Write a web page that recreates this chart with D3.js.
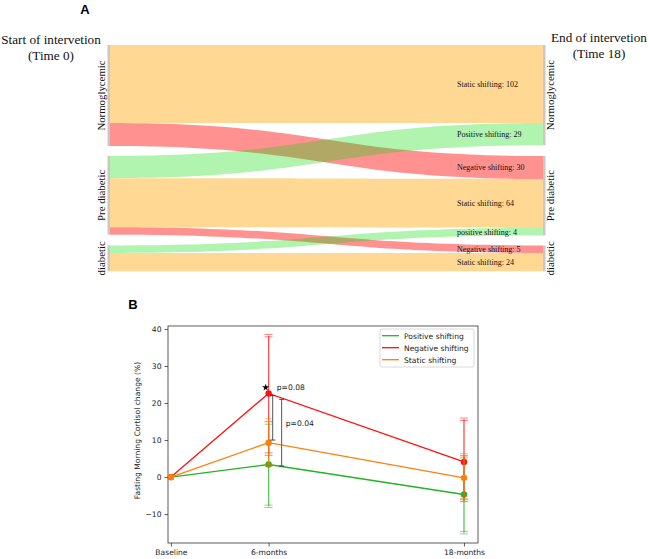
<!DOCTYPE html>
<html><head><meta charset="utf-8">
<script src="https://cdn.jsdelivr.net/npm/d3@7"></script>
<style>
body{margin:0;background:#fff;}
svg{display:block;}
</style></head>
<body>
<svg id="c" width="649" height="559"></svg>
<script>
// ---------- Panel A data (Sankey) ----------
const stages = ["Normoglycemic", "Pre diabetic", "diabetic"];
const flowSource = ["Normoglycemic","Normoglycemic","Pre diabetic","Pre diabetic","Pre diabetic","diabetic","diabetic"];
const flowTarget = ["Normoglycemic","Pre diabetic","Normoglycemic","Pre diabetic","diabetic","Pre diabetic","diabetic"];
const flowValue  = [102, 30, 29, 64, 5, 4, 24];
const flowType   = ["static","negative","positive","static","negative","positive","static"];
const flowLabel  = ["Static shifting: 102","Negative shifting: 30","Positive shifting: 29","Static shifting: 64","Negative shifting: 5","positive shifting: 4","Static shifting: 24"];

// ---------- Panel B data (line chart) ----------
const timeLabels = ["Baseline", "6-months", "18-months"];
const timeMonths = [0, 6, 18];
const seriesNames = ["Positive shifting", "Negative shifting", "Static shifting"];
const positiveMean = [0, 3.4, -4.7];
const positiveLow  = [0, -7.9, -15.0];
const positiveHigh = [0, 14.6, 5.5];
const negativeMean = [0, 22.6, 4.1];
const negativeLow  = [0, 6.2, -6.3];
const negativeHigh = [0, 38.2, 15.6];
const staticMean   = [0, 9.3, -0.2];
const staticLow    = [0, 3.2, -6.2];
const staticHigh   = [0, 15.4, 6.0];
const yTicks = [-10, 0, 10, 20, 30, 40];
const pLabels = ["p=0.08", "p=0.04"];

const svg = d3.select("#c");
const serif = "'Liberation Serif','Times New Roman',serif";
const sans = "'DejaVu Sans',sans-serif";

// ===== Panel A =====
svg.append("text").attr("x", 85).attr("y", 14).attr("text-anchor","middle")
  .attr("font-family","'Liberation Sans',Arial,sans-serif").attr("font-weight","bold").attr("font-size",13).text("A");
const hdr = [[51, "Start of intervetion", "(Time 0)", 44], [599, "End of intervetion", "(Time 18)", 42]];
hdr.forEach(h=>{
  const t = svg.append("text").attr("text-anchor","middle").attr("font-family",serif).attr("font-size",13.2).attr("fill","#111");
  t.append("tspan").attr("x",h[0]).attr("y",h[3]).text(h[1]);
  t.append("tspan").attr("x",h[0]).attr("dy",15.5).text(h[2]);
});

const colorOf = {static:"#ffa500", negative:"#ff0000", positive:"#00dd00"};
const opacityOf = {static:0.42, negative:0.43, positive:0.31};

const topY = 45, gap = 10, minBand = 7.5;
const xL = 110, xR = 543;
const flows = flowValue.map((v,i)=>({s:flowSource[i], t:flowTarget[i], v, type:flowType[i], label:flowLabel[i]}));
const leftTot = stages.map(s=>d3.sum(flows.filter(f=>f.s===s), f=>f.v));
const rightTot = stages.map(s=>d3.sum(flows.filter(f=>f.t===s), f=>f.v));
const wLin = d3.scaleLinear().domain([0, d3.max(leftTot)]).range([0, 101]);
const w = v => Math.max(wLin(v), minBand);
const leftH = stages.map(s=>d3.sum(flows.filter(f=>f.s===s), f=>w(f.v)));
const rightH = stages.map(s=>d3.sum(flows.filter(f=>f.t===s), f=>w(f.v)));
const nodeY = [];
let acc = topY;
stages.forEach((s,i)=>{ nodeY.push(acc); acc += Math.max(leftH[i], rightH[i]) + gap; });
const offL = nodeY.slice(), offR = nodeY.slice();
flows.forEach(f=>{
  const si = stages.indexOf(f.s), ti = stages.indexOf(f.t);
  f.y0 = offL[si]; offL[si] += w(f.v); f.y0b = offL[si];
  f.y1 = offR[ti]; offR[ti] += w(f.v); f.y1b = offR[ti];
});
const xm = (xL + xR)/2;
function flowPath(f){
  return `M${xL},${f.y0}C${xm},${f.y0} ${xm},${f.y1} ${xR},${f.y1}L${xR},${f.y1b}C${xm},${f.y1b} ${xm},${f.y0b} ${xL},${f.y0b}Z`;
}
const order = ["static","negative","positive"];
const gA = svg.append("g");
order.forEach(tp=>{
  gA.selectAll(null).data(flows.filter(f=>f.type===tp)).enter().append("path")
    .attr("d", flowPath).attr("fill", colorOf[tp]).attr("fill-opacity", opacityOf[tp]);
});
// node bars
stages.forEach((s,i)=>{
  gA.append("rect").attr("x", xL-2.5).attr("y", nodeY[i]).attr("width",2.5).attr("height", leftH[i]).attr("fill","#c8c8c8");
  gA.append("rect").attr("x", xR).attr("y", nodeY[i]).attr("width",2.5).attr("height", rightH[i]).attr("fill","#c8c8c8");
  const cyL = nodeY[i] + leftH[i]/2, cyR = nodeY[i] + rightH[i]/2;
  gA.append("text").attr("transform",`translate(105,${cyL}) rotate(-90)`).attr("text-anchor","middle")
    .attr("font-family",serif).attr("font-size",10.8).attr("fill","#111").text(s);
  gA.append("text").attr("transform",`translate(554,${cyR}) rotate(-90)`).attr("text-anchor","middle")
    .attr("font-family",serif).attr("font-size",10.8).attr("fill","#111").text(s);
});
// flow labels
gA.selectAll(null).data(flows).enter().append("text")
  .attr("x", 457).attr("y", f=>(f.y1+f.y1b)/2 + 3)
  .attr("font-family",serif).attr("font-size",8).attr("fill","#111").text(f=>f.label);

// ===== Panel B =====
svg.append("text").attr("x", 133).attr("y", 309).attr("text-anchor","middle")
  .attr("font-family","'Liberation Sans',Arial,sans-serif").attr("font-weight","bold").attr("font-size",13).text("B");

const x = d3.scaleLinear().domain([-0.18, 18.86]).range([168, 478]);
const y = d3.scaleLinear().domain([-17.8, 40.8]).range([543, 326]);
const gB = svg.append("g");

gB.append("g").attr("transform","translate(168,0)")
  .call(d3.axisLeft(y).tickValues(yTicks).tickSize(3.5).tickPadding(3).tickFormat(d=>d<0?"\u2212"+Math.abs(d):d))
  .call(g=>{g.select(".domain").remove(); g.selectAll("line").attr("stroke","#333").attr("stroke-width",0.8);
    g.selectAll("text").attr("font-family",sans).attr("font-size",7.6).attr("fill","#222");});
gB.append("g").attr("transform","translate(0,543)")
  .call(d3.axisBottom(x).tickValues(timeMonths).tickSize(3.5).tickPadding(3).tickFormat((d,i)=>timeLabels[i]))
  .call(g=>{g.select(".domain").remove(); g.selectAll("line").attr("stroke","#333").attr("stroke-width",0.8);
    g.selectAll("text").attr("font-family",sans).attr("font-size",7.6).attr("fill","#222");});
gB.append("rect").attr("x",168).attr("y",326).attr("width",310).attr("height",217)
  .attr("fill","none").attr("stroke","#333").attr("stroke-width",0.8);

gB.append("text").attr("transform",`translate(140,${(326+543)/2 - 4}) rotate(-90)`).attr("text-anchor","middle")
  .attr("font-family",sans).attr("font-size",7.6).attr("fill","#222").text("Fasting Morning Cortisol change (%)");

const series = [
  {name:seriesNames[0], color:"#22b422", mean:positiveMean, lo:positiveLow, hi:positiveHigh},
  {name:seriesNames[1], color:"#ff1010", mean:negativeMean, lo:negativeLow, hi:negativeHigh},
  {name:seriesNames[2], color:"#ff7f0e", mean:staticMean, lo:staticLow, hi:staticHigh}
];
const line = d3.line().x((d,i)=>x(timeMonths[i])).y(d=>y(d));
series.forEach(s=>{
  const g = gB.append("g");
  timeMonths.forEach((t,i)=>{
    if (s.lo[i]===s.hi[i]) return;
    const px = x(t);
    g.append("line").attr("x1",px).attr("x2",px).attr("y1",y(s.lo[i])).attr("y2",y(s.hi[i]))
      .attr("stroke",s.color).attr("stroke-width",1.3).attr("stroke-opacity",0.75);
    [s.lo[i], s.hi[i]].forEach(v=>{
      [-1.2, 1.2].forEach(o=>{
        g.append("line").attr("x1",px-4).attr("x2",px+4).attr("y1",y(v)+o).attr("y2",y(v)+o)
          .attr("stroke",s.color).attr("stroke-width",0.9).attr("stroke-opacity",0.6);
      });
    });
  });
  g.append("path").attr("d", line(s.mean)).attr("fill","none").attr("stroke",s.color).attr("stroke-width",1.3);
  g.selectAll("circle").data(s.mean).enter().append("circle")
    .attr("cx",(d,i)=>x(timeMonths[i])).attr("cy",d=>y(d)).attr("r",3.2).attr("fill",s.color);
});

// significance brackets
const br = [{xv:6.25, lo:10, hi:22, tx:6.5, ty:24.4, txt:pLabels[0]}, {xv:6.8, lo:3, hi:21, tx:7.05, ty:14.6, txt:pLabels[1]}];
br.forEach(b=>{
  const px = x(b.xv);
  gB.append("line").attr("x1",px).attr("x2",px).attr("y1",y(b.lo)).attr("y2",y(b.hi)).attr("stroke","#555").attr("stroke-width",1);
  [b.lo,b.hi].forEach(v=>gB.append("line").attr("x1",px-2.5).attr("x2",px+2.5).attr("y1",y(v)).attr("y2",y(v)).attr("stroke","#333").attr("stroke-width",0.9));
  gB.append("text").attr("x",x(b.tx)).attr("y",y(b.ty)+3).attr("font-family",sans).attr("font-size",7.6).attr("fill","#222").text(b.txt);
});
gB.append("path").attr("d", d3.symbol(d3.symbolStar, 16)()).attr("transform",`translate(${x(5.82)},${y(24.2)})`).attr("fill","#000");

// legend
const lg = gB.append("g");
lg.append("rect").attr("x",380).attr("y",329).attr("width",94).attr("height",38).attr("rx",2)
  .attr("fill","#fff").attr("fill-opacity",0.8).attr("stroke","#d0d0d0").attr("stroke-width",0.8);
series.forEach((s,i)=>{
  const yy = 335.7 + i*12;
  lg.append("line").attr("x1",382).attr("x2",399).attr("y1",yy).attr("y2",yy).attr("stroke",s.color).attr("stroke-width",1.3);
  lg.append("text").attr("x",404).attr("y",yy+2.8).attr("font-family",sans).attr("font-size",7.6).attr("fill","#222").text(s.name);
});
</script>
</body></html>
